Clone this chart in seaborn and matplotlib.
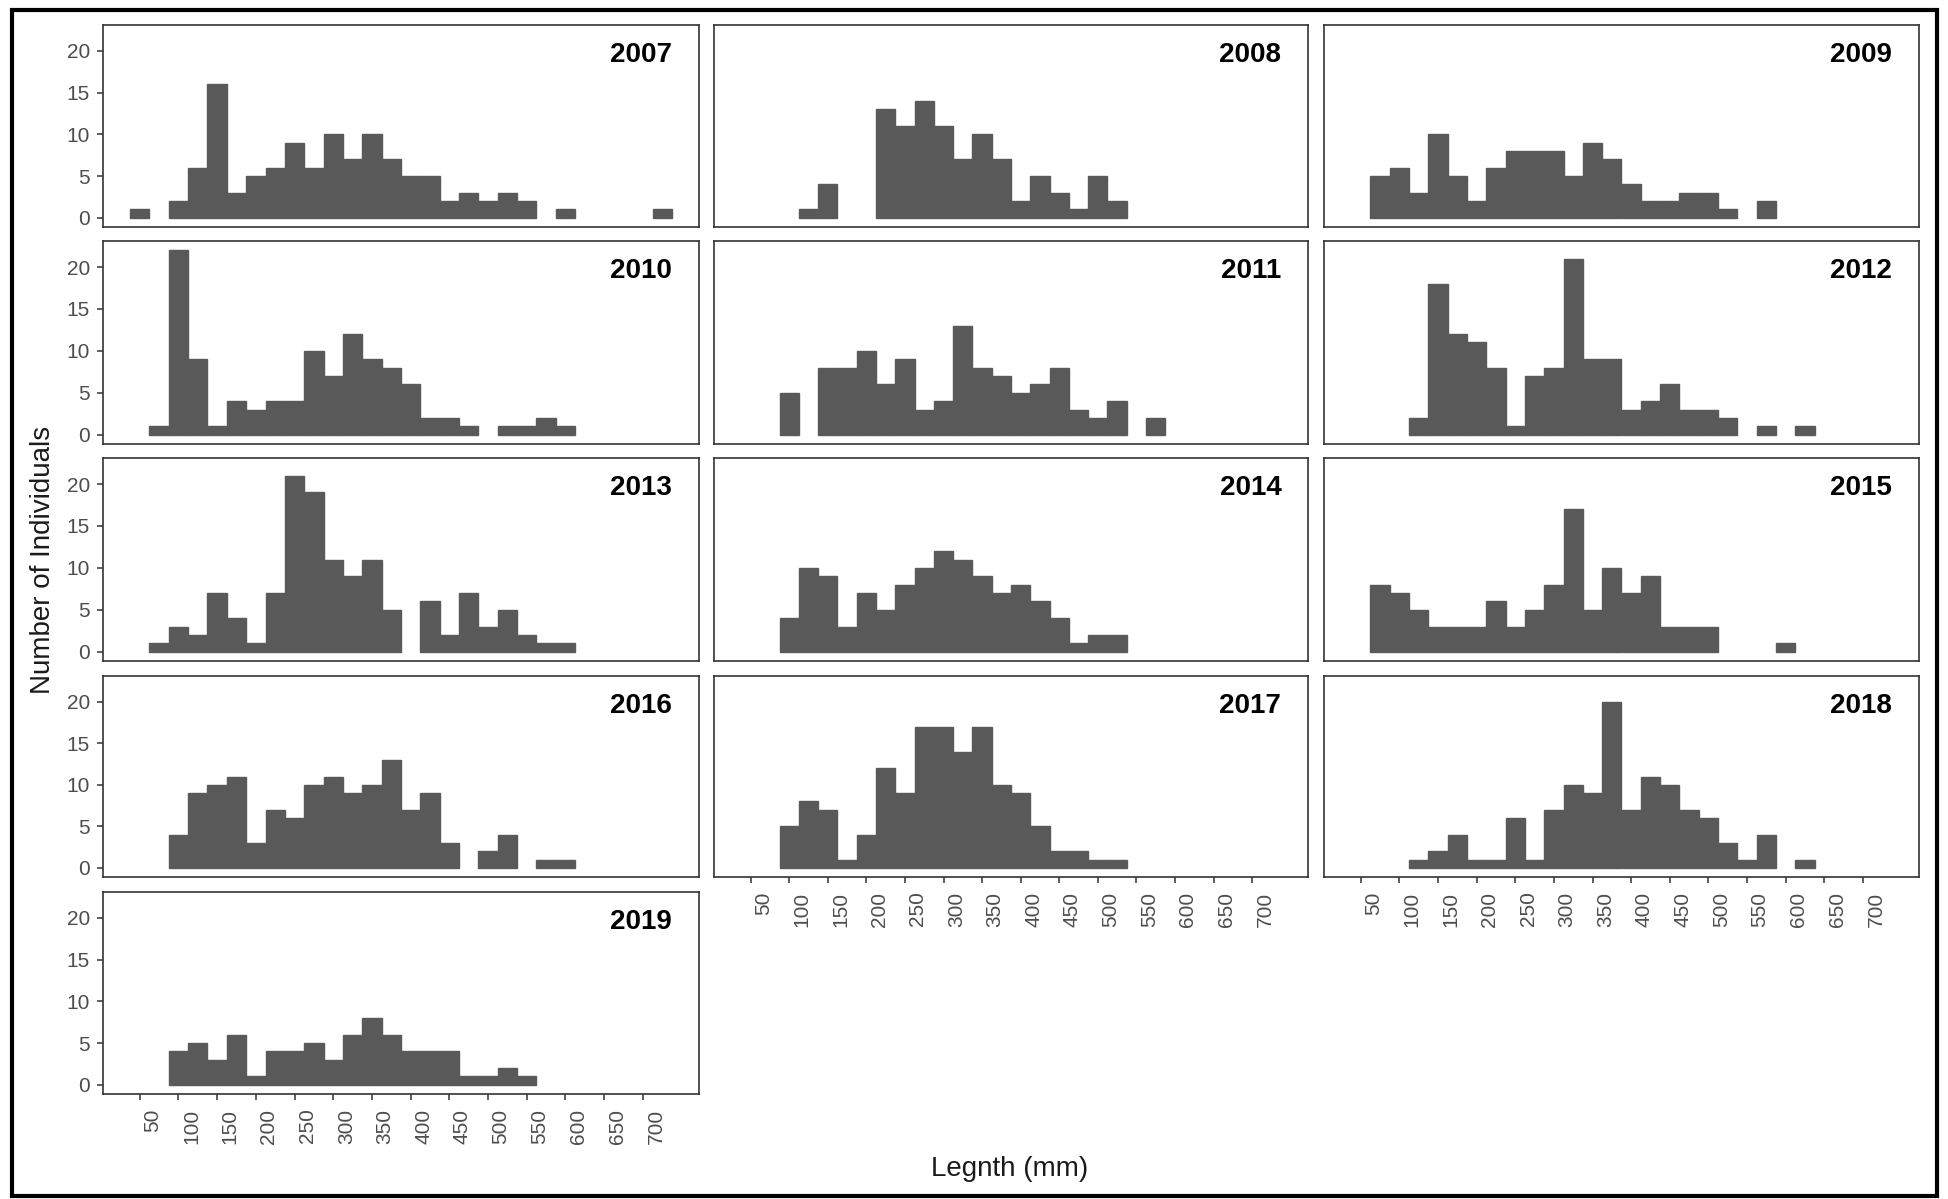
import matplotlib
matplotlib.use('Agg')
import matplotlib.pyplot as plt
import matplotlib.transforms as mtransforms
from matplotlib.patches import Rectangle
import numpy as np
import pandas as pd
import seaborn as sns

# bin centres (mm), binwidth 25
length_bins = [50, 75, 100, 125, 150, 175, 200, 225, 250, 275, 300, 325, 350, 375,
               400, 425, 450, 475, 500, 525, 550, 575, 600, 625, 650, 675, 700, 725]

counts_2007 = [1, 0, 2, 6, 16, 3, 5, 6, 9, 6, 10, 7, 10, 7, 5, 5, 2, 3, 2, 3, 2, 0, 1, 0, 0, 0, 0, 1]
counts_2008 = [0, 0, 0, 1, 4, 0, 0, 13, 11, 14, 11, 7, 10, 7, 2, 5, 3, 1, 5, 2, 0, 0, 0, 0, 0, 0, 0, 0]
counts_2009 = [0, 5, 6, 3, 10, 5, 2, 6, 8, 8, 8, 5, 9, 7, 4, 2, 2, 3, 3, 1, 0, 2, 0, 0, 0, 0, 0, 0]
counts_2010 = [0, 1, 22, 9, 1, 4, 3, 4, 4, 10, 7, 12, 9, 8, 6, 2, 2, 1, 0, 1, 1, 2, 1, 0, 0, 0, 0, 0]
counts_2011 = [0, 0, 5, 0, 8, 8, 10, 6, 9, 3, 4, 13, 8, 7, 5, 6, 8, 3, 2, 4, 0, 2, 0, 0, 0, 0, 0, 0]
counts_2012 = [0, 0, 0, 2, 18, 12, 11, 8, 1, 7, 8, 21, 9, 9, 3, 4, 6, 3, 3, 2, 0, 1, 0, 1, 0, 0, 0, 0]
counts_2013 = [0, 1, 3, 2, 7, 4, 1, 7, 21, 19, 11, 9, 11, 5, 0, 6, 2, 7, 3, 5, 2, 1, 1, 0, 0, 0, 0, 0]
counts_2014 = [0, 0, 4, 10, 9, 3, 7, 5, 8, 10, 12, 11, 9, 7, 8, 6, 4, 1, 2, 2, 0, 0, 0, 0, 0, 0, 0, 0]
counts_2015 = [0, 8, 7, 5, 3, 3, 3, 6, 3, 5, 8, 17, 5, 10, 7, 9, 3, 3, 3, 0, 0, 0, 1, 0, 0, 0, 0, 0]
counts_2016 = [0, 0, 4, 9, 10, 11, 3, 7, 6, 10, 11, 9, 10, 13, 7, 9, 3, 0, 2, 4, 0, 1, 1, 0, 0, 0, 0, 0]
counts_2017 = [0, 0, 5, 8, 7, 1, 4, 12, 9, 17, 17, 14, 17, 10, 9, 5, 2, 2, 1, 1, 0, 0, 0, 0, 0, 0, 0, 0]
counts_2018 = [0, 0, 0, 1, 2, 4, 1, 1, 6, 1, 7, 10, 9, 20, 7, 11, 10, 7, 6, 3, 1, 4, 0, 1, 0, 0, 0, 0]
counts_2019 = [0, 0, 4, 5, 3, 6, 1, 4, 4, 5, 3, 6, 8, 6, 4, 4, 4, 1, 1, 2, 1, 0, 0, 0, 0, 0, 0, 0]

years = [2007, 2008, 2009, 2010, 2011, 2012, 2013, 2014, 2015, 2016, 2017, 2018, 2019]
all_counts = [counts_2007, counts_2008, counts_2009, counts_2010, counts_2011, counts_2012,
              counts_2013, counts_2014, counts_2015, counts_2016, counts_2017, counts_2018,
              counts_2019]

x_ticks = [50, 100, 150, 200, 250, 300, 350, 400, 450, 500, 550, 600, 650, 700]
y_ticks = [0, 5, 10, 15, 20]

df = pd.DataFrame({
    'year': np.repeat(years, len(length_bins)),
    'length': length_bins * len(years),
    'n': np.concatenate(all_counts).astype(float),
})

sns.set_style('ticks')
plt.rcParams['font.family'] = ['Liberation Sans', 'DejaVu Sans']

W, H = 1948, 1199
fig = plt.figure(figsize=(W / 100, H / 100), dpi=100)

# panel boxes in pixels
col_x = [(103, 699), (714, 1308), (1324, 1919)]
row_y = [(25, 227), (241, 444), (458, 661), (676, 877), (892, 1094)]

bar_col = '#595959'
frame_col = '#333333'
tick_col = '#4D4D4D'
offset = mtransforms.ScaledTranslation(0.13, 0, fig.dpi_scale_trans)

for i, year in enumerate(years):
    r, c = divmod(i, 3)
    x0, x1 = col_x[c]
    y0, y1 = row_y[r]
    ax = fig.add_axes([x0 / W, 1 - y1 / H, (x1 - x0) / W, (y1 - y0) / H])
    sub = df[df['year'] == year].reset_index(drop=True)
    sns.histplot(data=sub, x='length', weights='n', binwidth=25, binrange=(37.5, 737.5),
                 ax=ax, color=bar_col, alpha=1, edgecolor=bar_col, linewidth=1.0)
    for p in list(ax.patches):
        if p.get_height() == 0:
            p.remove()
    ax.set_xlim(2.5, 772.5)
    ax.set_ylim(-1.1, 23.1)
    ax.set_xlabel('')
    ax.set_ylabel('')
    for s in ax.spines.values():
        s.set_visible(True)
        s.set_color(frame_col)
        s.set_linewidth(1.2)
    ax.tick_params(colors=frame_col, labelcolor=tick_col, labelsize=15,
                   length=4.5, width=1.1, pad=5)

    if c == 0:
        ax.set_yticks(y_ticks)
    else:
        ax.set_yticks([])

    if i >= 10:
        ax.set_xticks(x_ticks)
        ax.set_xticklabels([str(t) for t in x_ticks], rotation=90)
        ax.tick_params(axis='x', pad=6)
        for lab in ax.get_xticklabels():
            lab.set_transform(lab.get_transform() + offset)
    else:
        ax.set_xticks([])

    ax.text(0.955, 0.85, str(year), transform=ax.transAxes, ha='right', va='center',
            fontsize=20, fontweight='bold', color='black')

fig.text(0.0223, 0.533, 'Number of Individuals', rotation=90, ha='center', va='center',
         fontsize=20, color='#1a1a1a')
fig.text(0.5185, 0.025, 'Legnth (mm)', ha='center', va='center', fontsize=20, color='#1a1a1a')

fig.patches.append(Rectangle((0.0062, 0.0025), 0.9884, 0.9895, transform=fig.transFigure,
                             fill=False, edgecolor='black', linewidth=3, zorder=10))

fig.savefig('out.png', dpi=100)
